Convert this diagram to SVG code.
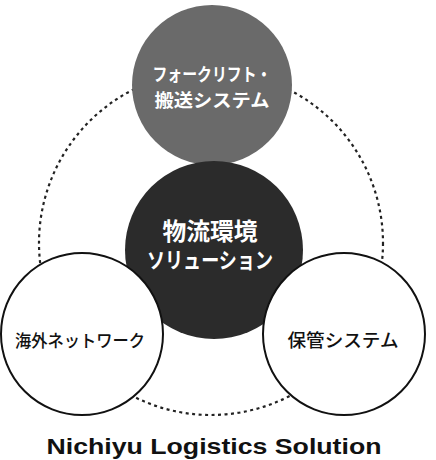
<svg xmlns="http://www.w3.org/2000/svg" width="436" height="460" viewBox="0 0 436 460">
<style>
.jp{font-family:"Liberation Sans","Noto Sans CJK JP",sans-serif;text-anchor:middle}
.w{fill:#fff;font-weight:bold}
.b{fill:#111}
.side{fill:#fff;stroke:#111;stroke-width:2}
</style>
<rect width="436" height="460" fill="#fff"/>
<g id="connectors">
<circle cx="211" cy="243" r="172" fill="none" stroke="#222" stroke-width="2.2" stroke-dasharray="3 3.5"/>
</g>
<g id="node-forklift">
<circle cx="212" cy="85" r="80" fill="#6a6a6a"/>
<text class="jp w" x="212" y="81" font-size="18" textLength="119" lengthAdjust="spacingAndGlyphs">フォークリフト・</text>
<text class="jp w" x="212" y="107" font-size="18" textLength="115" lengthAdjust="spacingAndGlyphs">搬送システム</text>
</g>
<g id="node-solution">
<circle cx="214" cy="250" r="89" fill="#2b2b2b"/>
<text class="jp w" x="210" y="240" font-size="24" textLength="95" lengthAdjust="spacingAndGlyphs">物流環境</text>
<text class="jp w" x="210" y="268" font-size="22" textLength="126" lengthAdjust="spacingAndGlyphs">ソリューション</text>
</g>
<g id="node-overseas">
<circle class="side" cx="82" cy="334" r="81"/>
<text class="jp b" x="80" y="347" font-size="17" font-weight="500" textLength="130" lengthAdjust="spacingAndGlyphs">海外ネットワーク</text>
</g>
<g id="node-storage">
<circle class="side" cx="344" cy="334" r="81"/>
<text class="jp b" x="343" y="347" font-size="18" font-weight="500" textLength="111" lengthAdjust="spacingAndGlyphs">保管システム</text>
</g>
<g id="title">
<text x="214" y="454" font-family="Liberation Sans,Arial,sans-serif" font-weight="bold" font-size="22" text-anchor="middle" fill="#111" textLength="335" lengthAdjust="spacingAndGlyphs">Nichiyu Logistics Solution</text>
</g>
</svg>
